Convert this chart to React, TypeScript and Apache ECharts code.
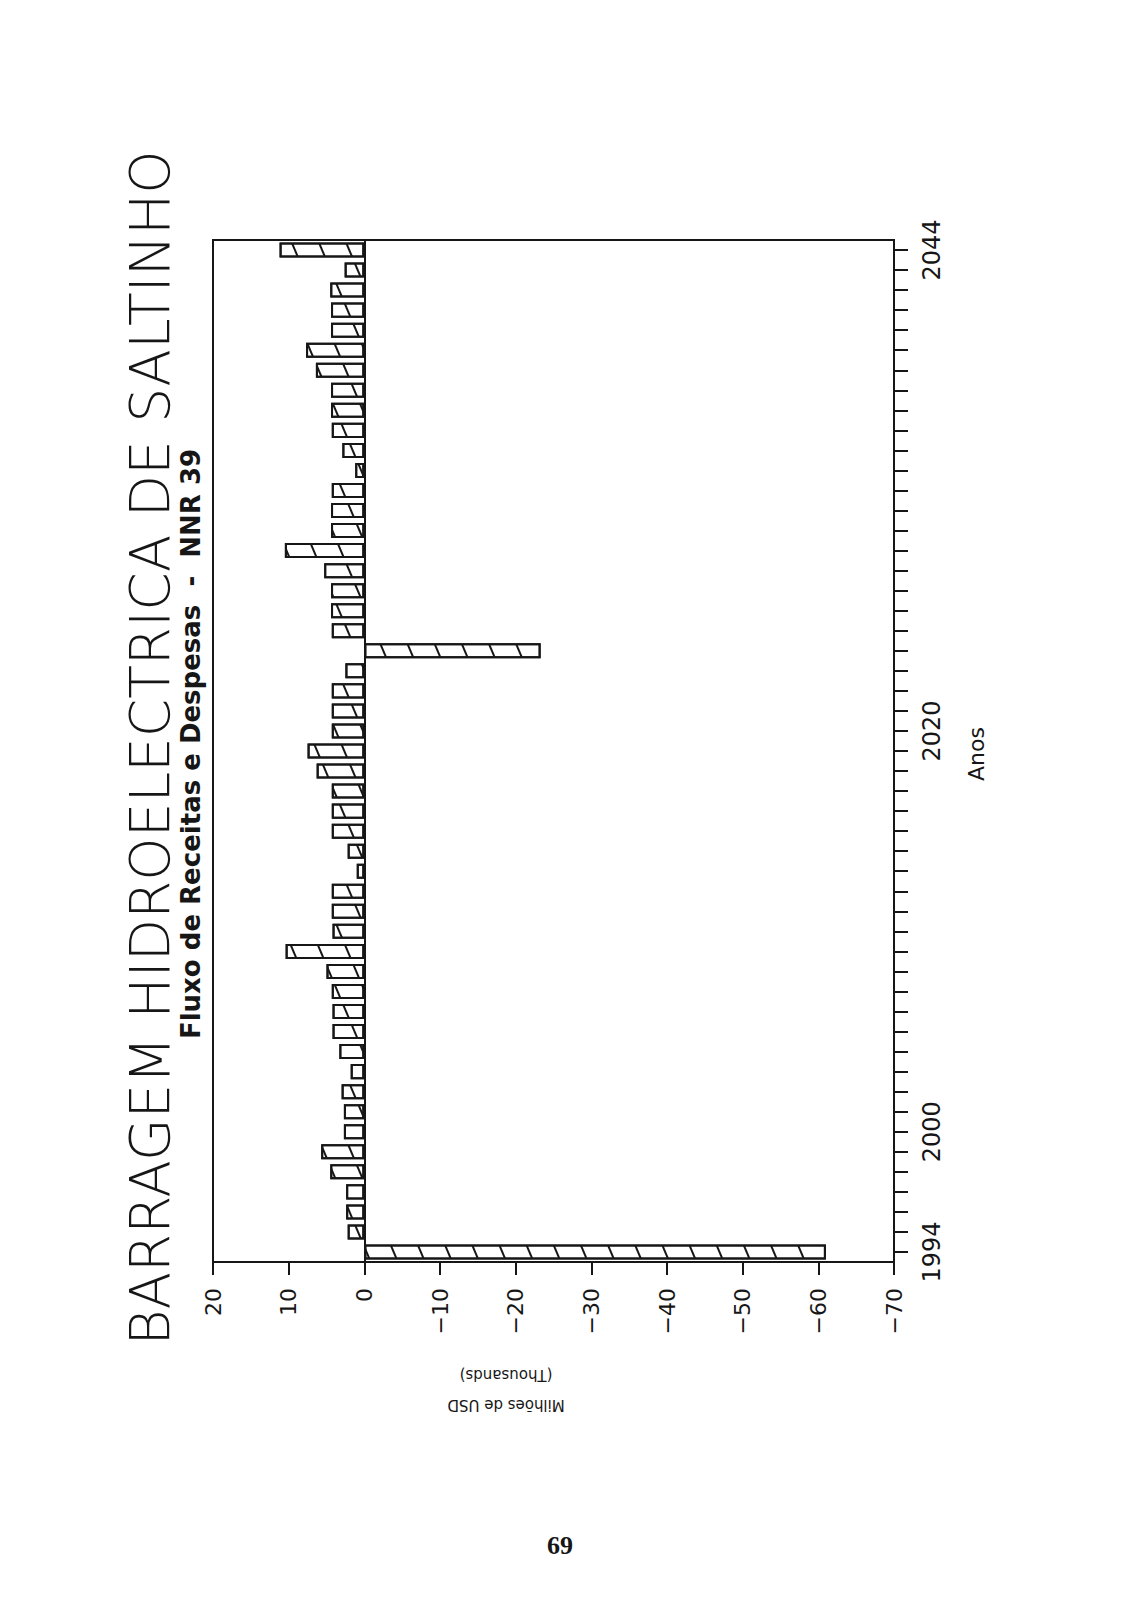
import React, { useEffect, useRef } from "react";
import * as echarts from "echarts";

// Categories: years, bottom (1994) to top (2044)
const years: string[] = [
  "1994", "1995", "1996", "1997", "1998", "1999", "2000", "2001", "2002", "2003",
  "2004", "2005", "2006", "2007", "2008", "2009", "2010", "2011", "2012", "2013",
  "2014", "2015", "2016", "2017", "2018", "2019", "2020", "2021", "2022", "2023",
  "2024", "2025", "2026", "2027", "2028", "2029", "2030", "2031", "2032", "2033",
  "2034", "2035", "2036", "2037", "2038", "2039", "2040", "2041", "2042", "2043",
  "2044",
];

// Tick labels shown on the year axis (as printed on the chart)
const yearTickLabels: string[] = [
  "1994", "", "", "", "", "", "2000", "", "", "",
  "", "", "", "", "", "", "", "", "", "",
  "", "", "", "", "", "", "2020", "", "", "",
  "", "", "", "", "", "", "", "", "", "",
  "", "", "", "", "", "", "", "", "", "",
  "2044",
];

// Net flow, thousands of USD millions
const netFlow: number[] = [
  -61, 2.2, 2.4, 2.4, 4.5, 5.7, 2.7, 2.7, 3.0, 1.8,
  3.3, 4.2, 4.2, 4.3, 5.0, 10.4, 4.2, 4.3, 4.3, 1.0,
  2.2, 4.3, 4.3, 4.3, 6.3, 7.5, 4.3, 4.3, 4.3, 2.5,
  -23.3, 4.3, 4.4, 4.4, 5.3, 10.5, 4.4, 4.4, 4.3, 1.2,
  2.9, 4.3, 4.4, 4.4, 6.4, 7.7, 4.4, 4.4, 4.5, 2.6,
  11.2,
];

const valueMin = -70;
const valueMax = 20;
const valueStep = 10;

const title = "BARRAGEM HIDROELECTRICA DE SALTINHO";
const subtitle = "Fluxo de Receitas e Despesas  -  NNR 39";
const xName = "Anos";
const yName = "Milhões de USD\n(Thousands)";
const pageNumber = "69";

const INK = "#161616";

export default function App() {
  const ref = useRef<HTMLDivElement>(null);

  useEffect(() => {
    if (!ref.current) return;
    const chart = echarts.init(ref.current, undefined, { renderer: "svg" });
    const option: any = {
      animation: false,
      backgroundColor: "#ffffff",
      grid: {
        left: 213,
        right: 237,
        top: 240,
        bottom: 358,
        show: true,
        borderColor: INK,
        borderWidth: 2,
        backgroundColor: "transparent",
      },
      xAxis: {
        type: "value",
        min: valueMin,
        max: valueMax,
        interval: valueStep,
        inverse: true,
        position: "bottom",
        axisLine: { show: true, lineStyle: { color: INK, width: 2 } },
        axisTick: { show: true, length: 13, lineStyle: { color: INK, width: 2 } },
        axisLabel: {
          rotate: 90,
          margin: 26,
          fontSize: 22,
          fontFamily: "DejaVu Sans",
          color: INK,
          formatter: (v: number) => (v < 0 ? "\u2212" + Math.abs(v) : String(v)),
        },
        splitLine: { show: false },
      },
      yAxis: {
        type: "category",
        data: years,
        position: "right",
        axisLine: { show: true, onZero: false, lineStyle: { color: INK, width: 2 } },
        axisTick: {
          show: true,
          alignWithLabel: true,
          interval: 0,
          length: 14,
          lineStyle: { color: INK, width: 2 },
        },
        axisLabel: {
          interval: 0,
          rotate: 90,
          margin: 26,
          fontSize: 24,
          fontFamily: "DejaVu Sans",
          color: INK,
          formatter: (_v: string, i: number) => yearTickLabels[i],
        },
        splitLine: { show: false },
      },
      series: [
        {
          type: "bar",
          data: netFlow,
          barCategoryGap: "25%",
          itemStyle: {
            color: "#ffffff",
            borderColor: INK,
            borderWidth: 2,
            decal: {
              symbol: "rect",
              symbolSize: 1,
              color: INK,
              dashArrayX: [1, 0],
              dashArrayY: [2, 23],
              rotation: 1.17,
            },
          },
          markLine: {
            silent: true,
            symbol: "none",
            label: { show: false },
            lineStyle: { color: INK, width: 2, type: "solid" },
            data: [{ xAxis: 0 }],
          },
        },
      ],
      graphic: [
        {
          type: "text",
          x: 150,
          y: 748,
          rotation: Math.PI / 2,
          style: {
            text: title,
            fontSize: 55,
            fontWeight: 200,
            fontFamily: "DejaVu Sans",
            fill: INK,
            textAlign: "center",
            textVerticalAlign: "middle",
          },
        },
        {
          type: "text",
          x: 191,
          y: 744,
          rotation: Math.PI / 2,
          style: {
            text: subtitle,
            fontSize: 26,
            fontWeight: "bold",
            fontFamily: "DejaVu Sans",
            fill: INK,
            textAlign: "center",
            textVerticalAlign: "middle",
          },
        },
        {
          type: "text",
          x: 976,
          y: 754,
          rotation: Math.PI / 2,
          style: {
            text: xName,
            fontSize: 22,
            fontFamily: "DejaVu Sans",
            fill: INK,
            textAlign: "center",
            textVerticalAlign: "middle",
          },
        },
        {
          type: "text",
          x: 506,
          y: 1390,
          rotation: Math.PI,
          style: {
            text: yName,
            fontSize: 15,
            lineHeight: 30,
            fontFamily: "DejaVu Sans",
            fill: INK,
            textAlign: "center",
            textVerticalAlign: "middle",
          },
        },
        {
          type: "text",
          x: 560,
          y: 1545,
          style: {
            text: pageNumber,
            fontSize: 26,
            fontWeight: "bold",
            fontFamily: "Liberation Serif",
            fill: INK,
            textAlign: "center",
            textVerticalAlign: "middle",
          },
        },
      ],
    };
    chart.setOption(option);
    return () => chart.dispose();
  }, []);

  return (
    <div
      ref={ref}
      style={{ position: "absolute", left: 0, top: 0, width: 1131, height: 1620, background: "#fff" }}
    />
  );
}
